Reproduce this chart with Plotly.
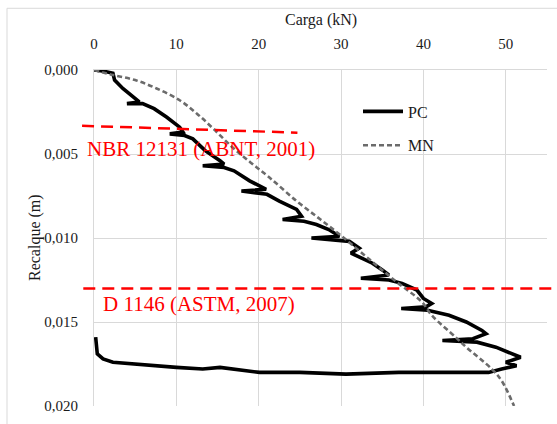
import plotly.graph_objects as go

# ---- data ----
pc_x = [0, 1.0, 2.3, 2.5, 3.5, 4.7, 5.5, 4.0, 5.9, 7.3, 8.8, 10.4, 10.8, 9.2, 11.0, 12.0,
        13.5, 15.3, 15.8, 13.2, 15.8, 17.0, 18.9, 20.5, 20.9, 17.9, 21.0, 22.5, 24.6, 25.2,
        22.9, 25.5, 27.0, 28.5, 29.8, 26.4, 29.5, 31.0, 32.2, 31.2, 32.5, 33.8, 35.0, 35.8,
        32.4, 35.8, 37.4, 39.2, 40.0, 41.0, 40.3, 37.3, 40.5, 43.1, 45.2, 47.1, 47.6, 46.4,
        46.0, 42.3, 46.5, 48.8, 50.4, 51.8, 50.0, 51.3, 49.5, 47.9, 37.0, 30.6, 25.0, 20.1,
        15.3, 13.2, 10.0, 5.0, 2.3, 1.1, 0.4, 0.2]
pc_y = [0, 0.00005, 0.0002, 0.0006, 0.0011, 0.0016, 0.0019, 0.0020, 0.0020, 0.0023, 0.0028,
        0.0034, 0.0037, 0.0038, 0.0039, 0.0041, 0.0048, 0.0054, 0.0056, 0.0057, 0.0058,
        0.0060, 0.0066, 0.0070, 0.0071, 0.0072, 0.0074, 0.0078, 0.0083, 0.0087, 0.0089,
        0.0090, 0.0092, 0.0095, 0.0099, 0.0100, 0.0101, 0.0102, 0.0106, 0.0109, 0.0112,
        0.0115, 0.0119, 0.0122, 0.0124, 0.0125, 0.0127, 0.0131, 0.0136, 0.0139, 0.0141,
        0.0142, 0.0143, 0.0146, 0.0150, 0.0155, 0.0157, 0.0159, 0.0160, 0.0161, 0.0162,
        0.0165, 0.0168, 0.0171, 0.0174, 0.0176, 0.0178, 0.0180, 0.0180, 0.0181, 0.0180,
        0.0180, 0.0177, 0.0178, 0.0177, 0.0175, 0.0174, 0.0172, 0.0169, 0.0159]

mn_x = [0, 2.3, 5.0, 7.6, 10.4, 12.5, 14.5, 16.8, 19.0, 21.3, 24.6, 27.5, 30.1, 33.5,
        36.7, 39.8, 41.0, 43.9, 45.2, 48.3, 49.5, 51.0]
mn_y = [0, 0.0003, 0.0006, 0.0011, 0.0018, 0.0026, 0.0035, 0.0046, 0.0055, 0.0064, 0.0078,
        0.0089, 0.0099, 0.0113, 0.0126, 0.0138, 0.0146, 0.0159, 0.0165, 0.0178, 0.0185, 0.0200]

x_ticks = [0, 10, 20, 30, 40, 50]
y_ticks = [0.000, 0.005, 0.010, 0.015, 0.020]
x_range = [0, 55]
y_range = [0.020, 0.0]

nbr_line_x = [-1.45, 24.7]
nbr_line_y = [0.00332, 0.00373]
astm_line_x = [-1.3, 56.5]
astm_line_y = [0.0130, 0.0130]
nbr_label = "NBR 12131 (ABNT, 2001)"
astm_label = "D 1146 (ASTM, 2007)"


def px(x):
    return (x - x_range[0]) / (x_range[1] - x_range[0])


def py(y):
    return (y - y_range[0]) / (y_range[1] - y_range[0])


FONT = "'Liberation Serif', 'Times New Roman', 'DejaVu Serif', serif"
TXT = "#1a1a1a"

fig = go.Figure()
fig.add_trace(go.Scatter(x=pc_x, y=pc_y, mode="lines", name="PC",
                         line=dict(color="black", width=3.6), legendgroup="a"))
fig.add_trace(go.Scatter(x=mn_x, y=mn_y, mode="lines", name="MN", line_shape="spline",
                         line=dict(color="#6b6b6b", width=2.6, dash="5px,3px"),
                         legendgroup="b"))

for lx, ly in [(nbr_line_x, nbr_line_y), (astm_line_x, astm_line_y)]:
    fig.add_shape(type="line", xref="paper", yref="paper",
                  x0=px(lx[0]), x1=px(lx[1]), y0=py(ly[0]), y1=py(ly[1]),
                  line=dict(color="#ff0000", width=2.5, dash="12px,7px"))

# chart-area border
fig.add_shape(type="rect", xref="paper", yref="paper",
              x0=-87 / 453, x1=1.5, y0=-0.5, y1=1 + 63 / 343,
              line=dict(color="#d9d9d9", width=1))

fig.add_annotation(text=nbr_label, xref="paper", yref="paper", x=px(-1.1), y=py(0.00468),
                   xanchor="left", yanchor="middle", showarrow=False,
                   font=dict(family=FONT, size=21, color="#ff0000"))
fig.add_annotation(text=astm_label, xref="paper", yref="paper", x=px(0.9), y=py(0.01395),
                   xanchor="left", yanchor="middle", showarrow=False,
                   font=dict(family=FONT, size=21, color="#ff0000"))

fig.add_annotation(text="Carga (kN)", xref="paper", yref="paper", x=0.5, y=1 + 51 / 343,
                   xanchor="center", yanchor="middle", showarrow=False,
                   font=dict(family=FONT, size=16, color=TXT))
fig.add_annotation(text="Recalque (m)", xref="paper", yref="paper", x=-59 / 453, y=0.5,
                   xanchor="center", yanchor="middle", showarrow=False, textangle=-90,
                   font=dict(family=FONT, size=16, color=TXT))

fig.update_layout(
    width=557, height=424,
    margin=dict(l=94, r=10, t=70, b=11),
    paper_bgcolor="white", plot_bgcolor="white",
    separators=",.",
    font=dict(family=FONT, size=15, color=TXT),
    showlegend=True,
    legend=dict(x=(358 - 94) / 453, y=1 - (95 - 70) / 343, xanchor="left", yanchor="top",
                bgcolor="rgba(0,0,0,0)", font=dict(family=FONT, size=16, color=TXT),
                tracegroupgap=10, itemwidth=40),
    xaxis=dict(side="top", range=x_range, tickvals=x_ticks, showgrid=True,
               gridcolor="#d9d9d9", gridwidth=1, zeroline=False, showline=True,
               linecolor="#d9d9d9", ticks="", ticklabelstandoff=14,
               tickfont=dict(family=FONT, size=15, color=TXT)),
    yaxis=dict(range=y_range, tickvals=y_ticks, tickformat=".3f", showgrid=True,
               gridcolor="#d9d9d9", gridwidth=1, zeroline=False, showline=True,
               linecolor="#d9d9d9", ticks="", ticklabelstandoff=12,
               tickfont=dict(family=FONT, size=15, color=TXT)),
)

fig.write_html("out.html")
